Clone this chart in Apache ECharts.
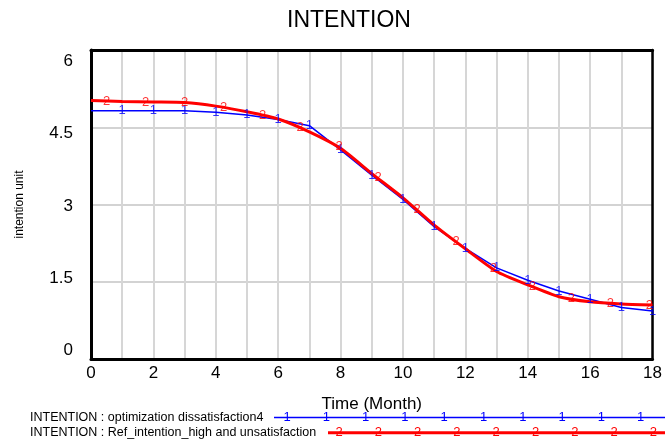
<!DOCTYPE html>
<html>
<head>
<meta charset="utf-8">
<script src="https://cdn.jsdelivr.net/npm/echarts@6/dist/echarts.min.js"></script>
<style>html,body{margin:0;padding:0;background:#fff}#c{width:665px;height:444px}</style>
</head>
<body>
<div id="c"></div>
<script>
// ---- data ----
var months = [0,1,2,3,4,5,6,7,8,9,10,11,12,13,14,15,16,17,18];
var optimizationDissatisfaction4 = [4.82,4.82,4.82,4.82,4.79,4.74,4.65,4.53,4.06,3.57,3.10,2.57,2.15,1.77,1.53,1.32,1.16,1.00,0.93];
var refIntentionHigh = [5.02,5.00,4.99,4.98,4.91,4.80,4.66,4.41,4.09,3.60,3.13,2.60,2.14,1.70,1.44,1.21,1.11,1.07,1.05];
var refMarkerMonths = [0.5,1.75,3,4.25,5.5,6.7,7.95,9.2,10.45,11.7,12.9,14.15,15.4,16.65,17.9];
var refMarkerValues = [5.01,4.99,4.98,4.89,4.73,4.49,4.12,3.52,2.90,2.28,1.75,1.40,1.17,1.08,1.05];
var yTicks = [0,1.5,3,4.5,6];
var xTickLabels = [0,2,4,6,8,10,12,14,16,18];
var seriesNames = ['INTENTION : optimization dissatisfaction4','INTENTION : Ref_intention_high and unsatisfaction'];
var titleText = 'INTENTION';

var FONT = 'Liberation Sans, Arial, sans-serif';
var BLUE = '#0000ff', RED = '#ff0000';

var blueData = months.map(function(m,i){return [m, optimizationDissatisfaction4[i]];});
var redData = months.map(function(m,i){return [m, refIntentionHigh[i]];});
var blueMarks = blueData.slice(1);
var redMarks = refMarkerMonths.map(function(m,i){return [m, refMarkerValues[i]];});

// y label vertical offsets (reference spreads labels slightly tighter than gridlines)
var yRich = {};
var yOff = [-8.9,-3.75,1.4,6.55,11.7];
yTicks.forEach(function(v,i){
  var o = yOff[i];
  yRich['y'+i] = {fontSize:17, fontFamily:FONT, color:'#000',
    padding: o>0 ? [2*o,0,0,0] : [0,0,-2*o,0]};
});

// legend decorations
var graphics = [];
function legendRow(y, x0, color, width, digit, firstX){
  graphics.push({type:'line', shape:{x1:x0,y1:y,x2:670,y2:y}, style:{stroke:color, lineWidth:width}, silent:true});
  for (var x = firstX; x < 668; x += 39.3){
    graphics.push({type:'text', x:x, y:y, style:{text:digit, fill:color, font:'13px '+FONT, textAlign:'center', textVerticalAlign:'middle'}, silent:true});
  }
}
legendRow(417.5, 274, BLUE, 1.3, '1', 287);
legendRow(432.7, 328, RED, 3, '2', 339);

var chart = echarts.init(document.getElementById('c'), null, {renderer:'canvas'});
chart.setOption({
  animation:false,
  backgroundColor:'#fff',
  textStyle:{fontFamily:FONT},
  title:{text:titleText, left:287, top:9, padding:0, textStyle:{fontSize:23, fontWeight:'normal', color:'#000', fontFamily:FONT}},
  legend:{
    orient:'vertical', left:25, top:410.5, padding:0, itemWidth:0, itemHeight:14, itemGap:1.4, icon:'none',
    data:seriesNames,
    textStyle:{fontSize:12.5, color:'#000', fontFamily:FONT}
  },
  grid:{left:91, top:50, width:566, height:309, containLabel:false},
  xAxis:[{
    type:'value', min:0, max:18, interval:1,
    name:'Time (Month)', nameLocation:'middle', nameGap:37,
    nameTextStyle:{fontSize:17, color:'#000', fontFamily:FONT},
    axisLine:{show:true, onZero:false, lineStyle:{color:'#000', width:3}},
    axisTick:{show:false},
    axisLabel:{margin:6, fontSize:17, color:'#000', fontFamily:FONT, showMaxLabel:true,
      formatter:function(v){return xTickLabels.indexOf(v)>=0 ? String(v) : '';}},
    splitLine:{show:true, lineStyle:{color:'#d6d6d6', width:2}}
  },{
    type:'value', min:0, max:18, position:'top',
    axisLine:{show:true, onZero:false, lineStyle:{color:'#000', width:3}},
    axisTick:{show:false}, axisLabel:{show:false}, splitLine:{show:false}
  }],
  yAxis:[{
    type:'value', min:0, max:6, interval:1.5,
    name:'intention unit', nameLocation:'middle', nameGap:65, nameRotate:90,
    nameTextStyle:{fontSize:12, color:'#000', fontFamily:FONT},
    axisLine:{show:true, onZero:false, lineStyle:{color:'#000', width:3}},
    axisTick:{show:false},
    axisLabel:{margin:18, fontSize:17, color:'#000', fontFamily:FONT, rich:yRich,
      formatter:function(v){var i=yTicks.indexOf(v); return '{y'+i+'|'+v+'}';}},
    splitLine:{show:true, lineStyle:{color:'#c4c4c4', width:1.5}}
  },{
    type:'value', min:0, max:6, position:'right',
    axisLine:{show:true, onZero:false, lineStyle:{color:'#000', width:2.5}},
    axisTick:{show:false}, axisLabel:{show:false}, splitLine:{show:false}
  }],
  graphic:graphics,
  series:[
    {name:seriesNames[0], type:'line', data:blueData, showSymbol:false, symbol:'none',
      lineStyle:{color:BLUE, width:1.5}, itemStyle:{color:BLUE}, z:3},
    {name:seriesNames[1], type:'line', data:redData, showSymbol:false, symbol:'none', smooth:0.2,
      lineStyle:{color:RED, width:3}, itemStyle:{color:RED}, z:4},
    {name:seriesNames[0], type:'scatter', data:blueMarks, symbolSize:1, itemStyle:{color:'rgba(0,0,0,0)'}, z:5,
      label:{show:true, position:'inside', formatter:'1', color:BLUE, fontSize:13, fontFamily:FONT}},
    {name:seriesNames[1], type:'scatter', data:redMarks, symbolSize:1, itemStyle:{color:'rgba(0,0,0,0)'}, z:6,
      label:{show:true, position:'inside', formatter:'2', color:RED, fontSize:13, fontFamily:FONT}}
  ]
});
</script>
</body>
</html>
